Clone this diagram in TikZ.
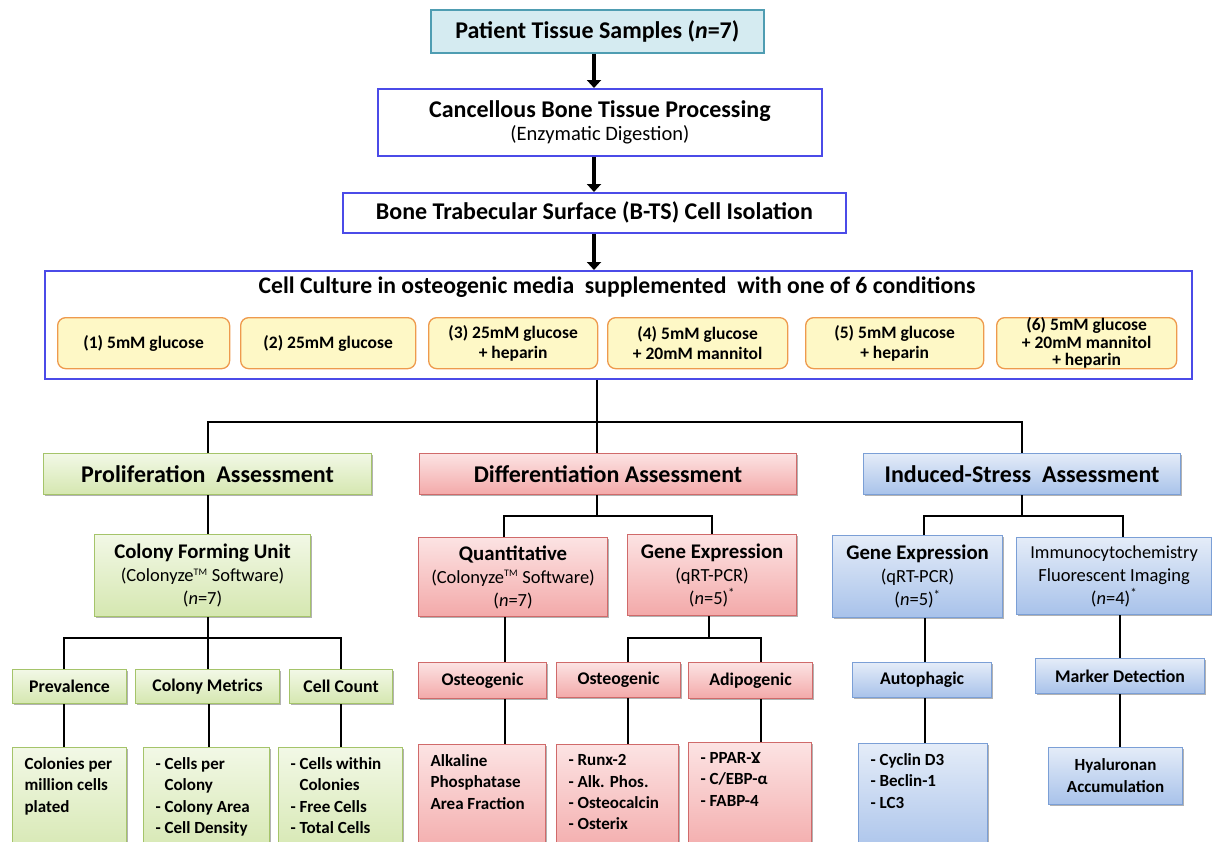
\documentclass[tikz,border=0pt]{standalone}
\usepackage{fontspec}
\setmainfont{Carlito}
\usetikzlibrary{shadows,arrows.meta}

\definecolor{tealfill}{HTML}{D5EBF1}
\definecolor{tealline}{HTML}{4F9DB2}
\definecolor{blueline}{HTML}{4B4BE8}
\definecolor{yelfill}{HTML}{FEF8C6}
\definecolor{orline}{HTML}{EE9A4D}
\definecolor{gtop}{HTML}{F2F8E6}
\definecolor{gbot}{HTML}{D5E7B0}
\definecolor{gline}{HTML}{A5C46A}
\definecolor{rtop}{HTML}{FCE3E3}
\definecolor{rbot}{HTML}{F3A9A9}
\definecolor{rline}{HTML}{D06A6A}
\definecolor{btop}{HTML}{E4ECF8}
\definecolor{bbot}{HTML}{A8C2EA}
\definecolor{bline}{HTML}{7B9FD6}

\newcommand\fs[2]{\fontsize{#1}{#2}\selectfont}
\newcommand\blist[3]{\begin{minipage}[t][#2pt][t]{#1pt}\raggedright\fs{17}{21.3}\bfseries #3\end{minipage}}
\newcommand\tm{\textsuperscript{\fs{10}{10}TM}}

\tikzset{
  base/.style={anchor=north west, inner sep=0pt, align=center, text=black},
  shad/.style={drop shadow={shadow xshift=1.5pt, shadow yshift=-1.5pt, opacity=0.3, fill=black}},
  tealbox/.style={base, shad, draw=tealline, fill=tealfill, line width=1.6pt},
  bluebox/.style={base, draw=blueline, fill=white, line width=1.8pt},
  condbox/.style={base, draw=orline, fill=yelfill, line width=1.3pt, rounded corners=8pt},
  gbox/.style={base, shad, draw=gline, top color=gtop, bottom color=gbot, line width=1.1pt},
  rbox/.style={base, shad, draw=rline, top color=rtop, bottom color=rbot, line width=1.1pt},
  bbox/.style={base, shad, draw=bline, top color=btop, bottom color=bbot, line width=1.1pt},
  listbox/.style={inner xsep=12pt, inner ysep=10pt, align=left},
  conn/.style={line width=2.6pt, black},
  arr/.style={line width=4.5pt, black, -{Triangle[width=14pt,length=8pt]}},
  ftitle/.style={font=\fs{24}{28}\bfseries},
  fcond/.style={font=\fs{17.5}{20}\bfseries},
  fmid/.style={font=\fs{18.5}{23}},
  flab/.style={font=\fs{17.8}{20}\bfseries},
}

\begin{document}
\begin{tikzpicture}[x=1pt, y=-1pt]
\useasboundingbox (0,0) rectangle (1212,841);
\clip (0,0) rectangle (1212,841);

% top chain
\node[tealbox, ftitle, minimum width=333pt, minimum height=43pt] (patient) at (430,9) {Patient Tissue Samples (\textit{n}=7)};
\node[bluebox, minimum width=444pt, minimum height=67pt] (cancel) at (377,88)
  {{\fs{24}{26}\bfseries Cancellous Bone Tissue Processing}\\[3pt]{\fs{20.5}{24}(Enzymatic Digestion)}};
\node[bluebox, ftitle, minimum width=503pt, minimum height=40pt] (bts) at (342,192) {Bone Trabecular Surface (B-TS) Cell Isolation};
\node[bluebox, minimum width=1147pt, minimum height=108pt] (culture) at (44,270) {};
\node[font=\fs{23.7}{26}\bfseries, inner sep=0pt] (ctitle) at (617,287) {Cell Culture in osteogenic media~ supplemented~ with one of 6 conditions};

\coordinate (ax) at (594,0);
\draw[arr] (patient.south -| ax) -- (cancel.north -| ax);
\draw[arr] (cancel.south -| ax) -- (bts.north -| ax);
\draw[arr] (bts.south -| ax) -- (culture.north -| ax);

% conditions
\node[condbox, fcond, minimum width=172pt, minimum height=51pt] (c1) at (57,317) {(1) 5mM glucose};
\node[condbox, fcond, minimum width=175pt, minimum height=51pt] (c2) at (240,317) {(2) 25mM glucose};
\node[condbox, fcond, minimum width=169pt, minimum height=51pt] (c3) at (428,317) {(3) 25mM glucose\\+ heparin};
\node[condbox, fcond, minimum width=180pt, minimum height=51pt] (c4) at (607,317) {(4) 5mM glucose\\+ 20mM mannitol};
\node[condbox, fcond, minimum width=178pt, minimum height=51pt] (c5) at (805,317) {(5) 5mM glucose\\+ heparin};
\node[condbox, font=\fs{17.5}{17.3}\bfseries, minimum width=180pt, minimum height=51pt] (c6) at (996,317) {(6) 5mM glucose\\+ 20mM mannitol\\+ heparin};

% level 2
\node[gbox, ftitle, minimum width=328pt, minimum height=41pt] (prolif) at (43,453) {Proliferation~ Assessment};
\node[rbox, ftitle, minimum width=377pt, minimum height=41pt] (diff) at (419,453) {Differentiation Assessment};
\node[bbox, ftitle, minimum width=317pt, minimum height=41pt] (stress) at (863,453) {Induced-Stress~ Assessment};

\coordinate (b1) at (597,422);
\draw[conn] (culture.south -| b1) -- (b1);
\draw[conn] (prolif.north -| 208,0) |- (b1) -| (stress.north -| 1022,0);
\draw[conn] (b1) -- (diff.north -| b1);

% proliferation branch
\node[gbox, fmid, minimum width=216pt, minimum height=82pt] (cfu) at (94,534)
  {{\fs{20.8}{23}\bfseries Colony Forming Unit}\\(Colonyze\tm\ Software)\\(\textit{n}=7)};
\draw[conn] (prolif.south -| 208,0) -- (cfu.north -| 208,0);

\node[gbox, flab, minimum width=114pt, minimum height=34pt] (prev) at (12,669) {Prevalence};
\node[gbox, flab, minimum width=144pt, minimum height=34pt] (cmet) at (135,669) {Colony Metrics};
\node[gbox, flab, minimum width=103pt, minimum height=34pt] (ccount) at (289,669) {Cell Count};
\coordinate (pb) at (208,638);
\draw[conn] (cfu.south -| pb) -- (pb);
\draw[conn] (prev.north -| 64,0) |- (pb) -| (ccount.north -| 341,0);
\draw[conn] (pb) -- (cmet.north -| pb);

\node[gbox, listbox] (colon) at (12,747) {\blist{90}{90}{Colonies per\\million cells\\plated}};
\node[gbox, listbox] (cper) at (143,747) {\blist{102}{90}{- Cells per\\\phantom{- }Colony\\- Colony Area\\- Cell Density}};
\node[gbox, listbox] (cwith) at (278,747) {\blist{100}{90}{- Cells within\\\phantom{- }Colonies\\- Free Cells\\- Total Cells}};
\draw[conn] (prev.south -| 64,0) -- (colon.north -| 64,0);
\draw[conn] (cmet.south -| 209,0) -- (cper.north -| 209,0);
\draw[conn] (ccount.south -| 341,0) -- (cwith.north -| 341,0);

% differentiation branch
\node[rbox, fmid, minimum width=189pt, minimum height=79pt] (quant) at (418,537)
  {{\fs{20.8}{23}\bfseries Quantitative}\\(Colonyze\tm\ Software)\\(\textit{n}=7)};
\node[rbox, fmid, minimum width=169pt, minimum height=81pt] (dgene) at (627,534)
  {{\fs{20.8}{23}\bfseries Gene Expression}\\(qRT-PCR)\\(\textit{n}=5)\textsuperscript{*}};
\coordinate (db) at (597,516);
\draw[conn] (diff.south -| db) -- (db);
\draw[conn] (quant.north -| 504,0) |- (db) -| (dgene.north -| 712,0);

\node[rbox, flab, minimum width=128pt, minimum height=36pt] (ost1) at (418,662) {Osteogenic};
\node[rbox, flab, minimum width=124pt, minimum height=35pt] (ost2) at (556,662) {Osteogenic};
\node[rbox, flab, minimum width=124pt, minimum height=36pt] (adip) at (688,662) {Adipogenic};
\draw[conn] (quant.south -| 505,0) -- (ost1.north -| 505,0);
\coordinate (gb) at (709,638);
\draw[conn] (dgene.south -| gb) -- (gb);
\draw[conn] (ost2.north -| 628,0) |- (gb) -| (adip.north -| 761,0);

\node[rbox, listbox] (alk) at (418,744) {\blist{103}{93}{Alkaline\\Phosphatase\\Area Fraction}};
\node[rbox, listbox] (runx) at (556,744) {\blist{98}{93}{- Runx-2\\- Alk. Phos.\\- Osteocalcin\\- Osterix}};
\node[rbox, listbox] (ppar) at (688,742) {\blist{99}{95}{- PPAR-Ɣ\\- C/EBP-α\\- FABP-4}};
\draw[conn] (ost1.south -| 505,0) -- (alk.north -| 505,0);
\draw[conn] (ost2.south -| 628,0) -- (runx.north -| 628,0);
\draw[conn] (adip.south -| 761,0) -- (ppar.north -| 761,0);

% stress branch
\node[bbox, fmid, minimum width=170pt, minimum height=82pt] (sgene) at (832,535)
  {{\fs{20.8}{23}\bfseries Gene Expression}\\(qRT-PCR)\\(\textit{n}=5)\textsuperscript{*}};
\node[bbox, fmid, minimum width=195pt, minimum height=77pt] (immuno) at (1016,537)
  {{\fs{18.3}{23}Immunocytochemistry}\\Fluorescent Imaging\\(\textit{n}=4)\textsuperscript{*}};
\coordinate (sb) at (1022,516);
\draw[conn] (stress.south -| sb) -- (sb);
\draw[conn] (sgene.north -| 924,0) |- (sb) -| (immuno.north -| 1123,0);

\node[bbox, flab, minimum width=139pt, minimum height=35pt] (auto) at (852,662) {Autophagic};
\node[bbox, flab, minimum width=169pt, minimum height=35pt] (marker) at (1035,658) {Marker Detection};
\draw[conn] (sgene.south -| 925,0) -- (auto.north -| 925,0);
\draw[conn] (immuno.south -| 1120,0) -- (marker.north -| 1120,0);

\node[bbox, listbox] (cyclin) at (858,743) {\blist{105}{94}{- Cyclin D3\\- Beclin-1\\- LC3}};
\node[bbox, font=\fs{17}{22}\bfseries, minimum width=134pt, minimum height=57pt] (hyal) at (1048,747) {Hyaluronan\\Accumulation};
\draw[conn] (auto.south -| 925,0) -- (cyclin.north -| 925,0);
\draw[conn] (marker.south -| 1120,0) -- (hyal.north -| 1120,0);
\end{tikzpicture}
\end{document}
